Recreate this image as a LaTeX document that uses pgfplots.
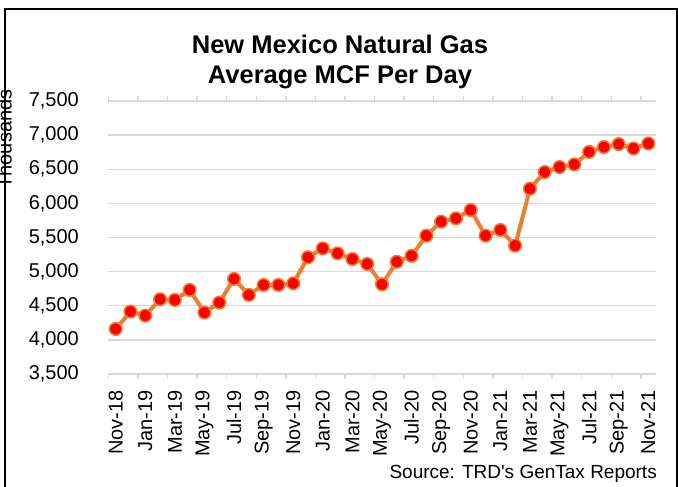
\documentclass[border=0pt]{standalone}
\usepackage{pgfplots}
\pgfplotsset{compat=1.18}
\usepackage{fontspec}
\setmainfont{Liberation Sans}
\definecolor{ora}{HTML}{ED7D31}
\definecolor{grd}{HTML}{D9D9D9}
\pgfplotstableread{
x y
0 4160
1 4415
2 4356
3 4595
4 4585
5 4732
6 4400
7 4546
8 4893
9 4659
10 4805
11 4805
12 4829
13 5210
14 5341
15 5268
16 5185
17 5112
18 4815
19 5144
20 5232
21 5527
22 5732
23 5781
24 5903
25 5527
26 5610
27 5381
28 6215
29 6459
30 6532
31 6571
32 6754
33 6825
34 6868
35 6805
36 6878
}\gasdata
\begin{document}
\begin{tikzpicture}[x=1pt,y=1pt]
\useasboundingbox (0,0) rectangle (678,487);
\begin{axis}[
  at={(108.3pt,113pt)}, anchor=south west,
  scale only axis, width=547.4pt, height=273pt,
  xmin=-0.5, xmax=36.5, ymin=3500, ymax=7500,
  clip=false,
  axis line style={draw=none},
  ytick={3500,4000,...,7500},
  ymajorgrids, grid style={grd, line width=1.4pt},
  ytick style={draw=none},
  xtick={0,2,...,36},
  xticklabels={Nov-18,Jan-19,Mar-19,May-19,Jul-19,Sep-19,Nov-19,Jan-20,Mar-20,May-20,Jul-20,Sep-20,Nov-20,Jan-21,Mar-21,May-21,Jul-21,Sep-21,Nov-21},
  major x tick style={draw=none},
  minor xtick={-0.5,1.5,...,36.5},
  minor x tick style={grd, line width=1.4pt},
  minor tick length=5pt,
  tick align=outside,
  /pgf/number format/assume math mode=true,
  /pgf/number format/.cd, 1000 sep={,}, fixed, /pgfplots/.cd,
  yticklabel style={font=\fontsize{20}{24}\selectfont, anchor=east, inner sep=0pt, xshift=-25pt},
  xticklabel style={font=\fontsize{20}{24}\selectfont, rotate=90, anchor=east, inner sep=0pt},
  xticklabel shift=11.7pt,
]
\addplot[ora, line width=4pt, mark=*, mark size=6.3pt,
  mark options={fill=red, draw=ora, line width=1.5pt}] table[x=x,y=y] {\gasdata};
\end{axis}
\draw[line width=2pt] (5,-10) -- (5,478) -- (676.5,478) -- (676.5,-10);
\node[rotate=90, anchor=base, inner sep=0pt, font=\fontsize{20}{24}\selectfont] at (11.5,348) {Thousands};
\node[anchor=base, inner sep=0pt, font=\fontsize{25.5}{30}\selectfont\bfseries] at (340,433.7) {New Mexico Natural Gas};
\node[anchor=base, inner sep=0pt, font=\fontsize{25.5}{30}\selectfont\bfseries] at (340,403) {Average MCF Per Day};
\node[anchor=base east, inner sep=0pt, font=\fontsize{19}{22}\selectfont] at (657,8) {Source: TRD\textquotesingle s GenTax Reports};
\end{tikzpicture}
\end{document}
